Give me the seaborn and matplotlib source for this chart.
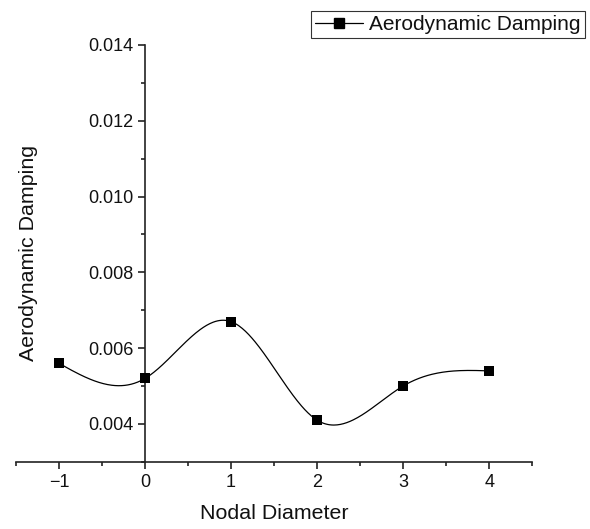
import numpy as np
import pandas as pd
import matplotlib
matplotlib.use("Agg")
import matplotlib.pyplot as plt
from matplotlib.lines import Line2D
from matplotlib.ticker import MultipleLocator, FormatStrFormatter
import seaborn as sns

nodal_diameter = [-1, 0, 1, 2, 3, 4]
aero_damping = [0.0056, 0.0052, 0.0067, 0.0041, 0.0050, 0.0054]
series_name = "Aerodynamic Damping"
x_label = "Nodal Diameter"
y_label = "Aerodynamic Damping"


def natural_cubic_spline(x, y, xs):
    x = np.asarray(x, float)
    y = np.asarray(y, float)
    n = len(x)
    h = np.diff(x)
    A = np.zeros((n, n))
    b = np.zeros(n)
    A[0, 0] = A[-1, -1] = 1.0
    for i in range(1, n - 1):
        A[i, i - 1] = h[i - 1]
        A[i, i] = 2 * (h[i - 1] + h[i])
        A[i, i + 1] = h[i]
        b[i] = 3 * ((y[i + 1] - y[i]) / h[i] - (y[i] - y[i - 1]) / h[i - 1])
    c = np.linalg.solve(A, b)
    out = np.empty_like(xs)
    for k, xv in enumerate(xs):
        i = min(max(np.searchsorted(x, xv) - 1, 0), n - 2)
        dx = xv - x[i]
        bi = (y[i + 1] - y[i]) / h[i] - h[i] * (2 * c[i] + c[i + 1]) / 3
        di = (c[i + 1] - c[i]) / (3 * h[i])
        out[k] = y[i] + bi * dx + c[i] * dx ** 2 + di * dx ** 3
    return out


sns.set_theme(style="ticks")
plt.rcParams["font.family"] = ["Liberation Sans", "DejaVu Sans"]
plt.rcParams["axes.unicode_minus"] = True

points = pd.DataFrame({"nd": nodal_diameter, "damping": aero_damping})
xs = np.linspace(min(nodal_diameter), max(nodal_diameter), 400)
curve = pd.DataFrame({"nd": xs, "damping": natural_cubic_spline(nodal_diameter, aero_damping, xs)})

fig = plt.figure(figsize=(5.90, 5.29), dpi=100)
ax = fig.add_axes([0.027, 0.127, 0.875, 0.788])

sns.lineplot(data=curve, x="nd", y="damping", ax=ax, color="black", linewidth=0.9, legend=False)
sns.scatterplot(data=points, x="nd", y="damping", ax=ax, color="black", marker="s",
                s=45, edgecolor="black", linewidth=0, zorder=3, legend=False)

ax.set_xlim(-1.5, 4.5)
ax.set_ylim(0.003, 0.014)
ax.xaxis.set_major_locator(MultipleLocator(1))
ax.xaxis.set_minor_locator(MultipleLocator(0.5))
ax.yaxis.set_minor_locator(MultipleLocator(0.001))
ax.set_yticks([0.004, 0.006, 0.008, 0.010, 0.012, 0.014])
ax.yaxis.set_major_formatter(FormatStrFormatter("%.3f"))

ax.spines["left"].set_position(("data", 0))
ax.spines["top"].set_visible(False)
ax.spines["right"].set_visible(False)
for side in ("left", "bottom"):
    ax.spines[side].set_linewidth(1.2)
    ax.spines[side].set_color("#222222")

ax.tick_params(which="major", direction="out", length=5, width=1.2, labelsize=13,
               color="#222222", labelcolor="#111111")
ax.tick_params(which="minor", direction="out", length=3, width=1.2, color="#222222")

ax.set_xlabel(x_label, fontsize=15.4, color="#111111")
ax.set_ylabel(y_label, fontsize=15.4, color="#111111")
ax.xaxis.set_label_coords(0.5, -0.1)
ax.yaxis.set_label_coords(0.043, 0.5)

handle = Line2D([], [], color="black", linewidth=0.9, marker="s", markersize=7)
leg = ax.legend([handle], [series_name], loc="upper left",
                bbox_to_anchor=(311 / 590, 1 - 11 / 529), bbox_transform=fig.transFigure,
                fontsize=15, frameon=True, fancybox=False, borderpad=0.2,
                handlelength=2.3, handletextpad=0.3, borderaxespad=0)
leg.get_frame().set_edgecolor("black")
leg.get_frame().set_linewidth(0.8)
for t in leg.get_texts():
    t.set_color("#111111")

fig.savefig("out.png", dpi=100)
